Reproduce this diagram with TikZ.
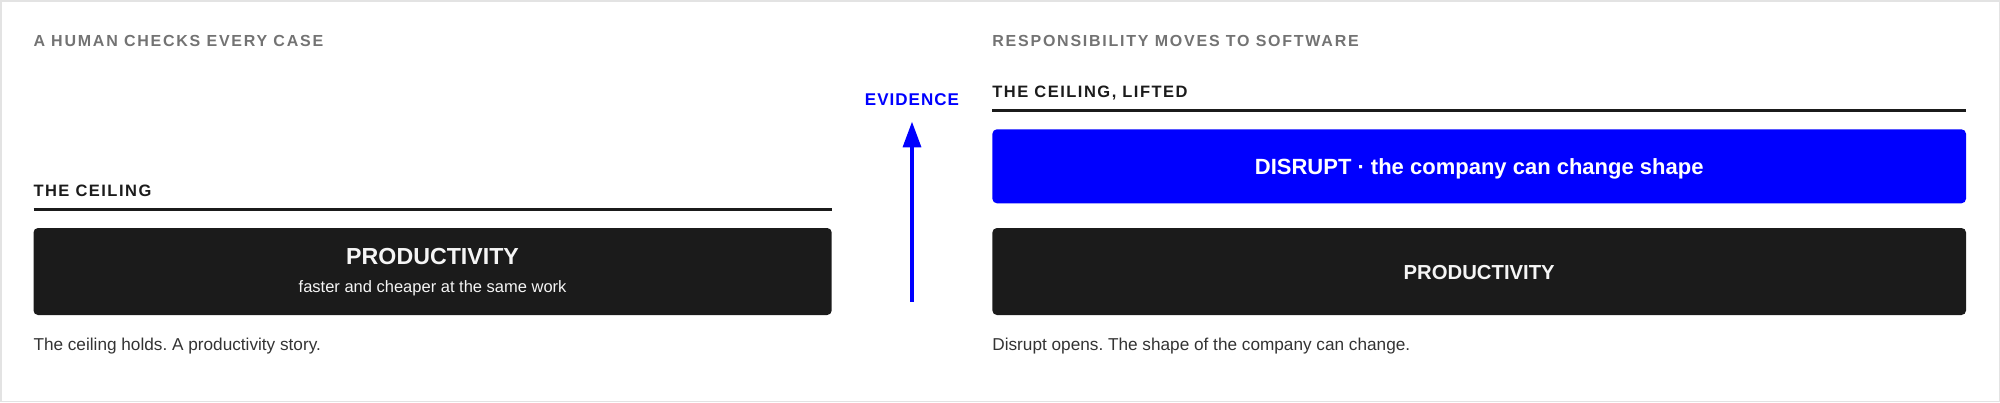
\documentclass[tikz,border=0pt]{standalone}
\usepackage{fontspec}
\setmainfont{Liberation Sans}
\usetikzlibrary{arrows.meta}
\definecolor{ink}{HTML}{1B1B1B}
\definecolor{muted}{HTML}{737373}
\definecolor{bodytext}{HTML}{333333}
\definecolor{evblue}{HTML}{0000FF}
\definecolor{framegray}{HTML}{E3E3E3}
\definecolor{boxtext}{HTML}{F5F5F5}
\frenchspacing
\newcommand{\fsz}[1]{\fontsize{#1pt}{#1pt}\selectfont}
\newcommand{\eyebrowfont}{\fsz{16}\bfseries\addfontfeatures{LetterSpace=11}}
\newcommand{\headfont}{\fsz{16.5}\bfseries\addfontfeatures{LetterSpace=9}}
\newcommand{\evfont}{\fsz{17}\bfseries\addfontfeatures{LetterSpace=6}}
\begin{document}
\begin{tikzpicture}[x=1pt,y=-1pt,
  every node/.style={inner sep=0pt, outer sep=0pt},
  eyebrow/.style={anchor=base west, text=muted, font=\eyebrowfont},
  sechead/.style={anchor=base west, text=ink, font=\headfont},
  rulestyle/.style={draw=ink, line width=3pt},
  panel/.style={anchor=north west, rounded corners=4.5pt, minimum height=87pt},
  darkpanel/.style={panel, fill=ink},
  bluepanel/.style={anchor=north west, rounded corners=4.5pt, fill=evblue, minimum height=74pt},
  caption/.style={anchor=base west, text=bodytext, font=\fsz{17.2}},
  boxlabel/.style={anchor=base, text=boxtext, font=\bfseries},
  evarrow/.style={draw=evblue, line width=3.2pt, -{Triangle[length=25.6pt, width=18pt]}}
]
\useasboundingbox (0,0) rectangle (2000,402);
\draw[framegray, line width=1.5pt] (0.75,0.75) rectangle (1999.25,401.25);

% left column
\node[eyebrow] (ltitle) at (33.5,46.7) {A HUMAN CHECKS EVERY CASE};
\node[sechead] (lhead) at (33.5,196) {THE CEILING};
\coordinate (lruleA) at (33.5,209);
\coordinate (lruleB) at (831.7,209);
\draw[rulestyle] (lruleA) -- (lruleB);
\node[darkpanel, minimum width=798.2pt] (lbox) at (33.5,228) {};
\node[boxlabel, font=\fsz{23.2}\bfseries] (lprod) at (432.6,264) {PRODUCTIVITY};
\node[anchor=base, text=boxtext, font=\fsz{16.5}] (lsub) at (432.6,292.7) {faster and cheaper at the same work};
\node[caption] (lcap) at (33.5,350) {The ceiling holds. A productivity story.};

% middle arrow
\node[anchor=base, text=evblue, font=\evfont] (ev) at (912,105.3) {EVIDENCE};
\coordinate (arrB) at (912,301.7);
\coordinate (arrT) at (912,121.7);
\draw[evarrow] (arrB) -- (arrT);

% right column
\node[eyebrow] (rtitle) at (992.4,46.7) {RESPONSIBILITY MOVES TO SOFTWARE};
\node[sechead] (rhead) at (992.4,97.3) {THE CEILING, LIFTED};
\coordinate (rruleA) at (992.4,110);
\coordinate (rruleB) at (1966,110);
\draw[rulestyle] (rruleA) -- (rruleB);
\node[bluepanel, minimum width=973.6pt] (rblue) at (992.4,129.3) {};
\node[boxlabel, text=white, font=\fsz{22}\bfseries] (rdis) at (1479.2,174.3) {DISRUPT · the company can change shape};
\node[darkpanel, minimum width=973.6pt] (rbox) at (992.4,228) {};
\node[boxlabel, font=\fsz{20.3}\bfseries] (rprod) at (1479.2,279.6) {PRODUCTIVITY};
\node[caption] (rcap) at (992.4,350) {Disrupt opens. The shape of the company can change.};
\end{tikzpicture}
\end{document}
